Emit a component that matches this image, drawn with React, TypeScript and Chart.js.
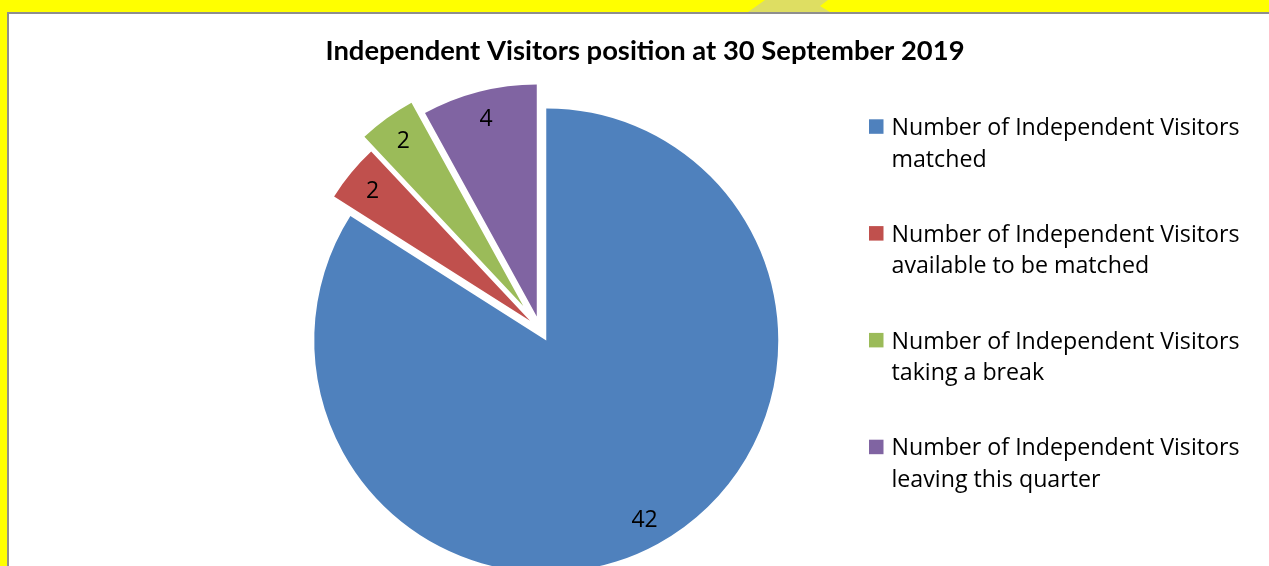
import React, { useEffect, useRef } from "react";
import { Chart, registerables } from "chart.js";

Chart.register(...registerables);

// ---- data ----
const chartTitle = "Independent Visitors position at 30 September 2019";
const categories: string[][] = [
  ["Number of Independent Visitors", "matched"],
  ["Number of Independent Visitors", "available to be matched"],
  ["Number of Independent Visitors", "taking a break"],
  ["Number of Independent Visitors", "leaving this quarter"],
];
const values: number[] = [42, 2, 2, 4];

// ---- style ----
const colors = ["#4F81BD", "#C0504D", "#9BBB59", "#8064A2"];
const explode = [13, 13, 28.5, 13];
const FONT = "'Open Sans', Lato, 'DejaVu Sans', sans-serif";
const TITLE_FONT = "Lato, 'Open Sans', 'DejaVu Sans', sans-serif";

const explodePlugin = {
  id: "explodeSlices",
  beforeDatasetsDraw(chart: any) {
    const ctx = chart.ctx;
    const meta = chart.getDatasetMeta(0);
    meta.data.forEach((arc: any, i: number) => {
      const mid = (arc.startAngle + arc.endAngle) / 2;
      const d = explode[i] || 0;
      ctx.save();
      ctx.translate(Math.cos(mid) * d, Math.sin(mid) * d);
      arc.draw(ctx);
      ctx.restore();
    });
    return false;
  },
};

const decorPlugin = {
  id: "decor",
  afterDraw(chart: any) {
    const ctx = chart.ctx;
    const meta = chart.getDatasetMeta(0);
    const ds = chart.data.datasets[0];
    ctx.save();
    // data labels
    ctx.font = `23px ${FONT}`;
    ctx.fillStyle = "#000";
    ctx.textAlign = "center";
    ctx.textBaseline = "middle";
    meta.data.forEach((arc: any, i: number) => {
      const mid = (arc.startAngle + arc.endAngle) / 2;
      const r = (explode[i] || 0) + arc.outerRadius * 0.88;
      ctx.fillText(String(ds.data[i]), arc.x + Math.cos(mid) * r, arc.y + Math.sin(mid) * r + 1);
    });
    // title
    ctx.font = `bold 27.4px ${TITLE_FONT}`;
    ctx.textAlign = "center";
    ctx.textBaseline = "alphabetic";
    ctx.fillText(chartTitle, 645, 60);
    // legend
    const labels = chart.data.labels as string[][];
    labels.forEach((lines, i) => {
      const top = 119.3 + 106.8 * i;
      ctx.fillStyle = ds.backgroundColor[i];
      ctx.fillRect(869, top, 14.5, 14.5);
      ctx.fillStyle = "#000";
      ctx.font = `23.2px ${FONT}`;
      ctx.textAlign = "left";
      lines.forEach((ln, j) => {
        ctx.fillText(ln, 891.5, 135 + 106.8 * i + 31.5 * j);
      });
    });
    ctx.restore();
  },
};

export default function App() {
  const ref = useRef<HTMLCanvasElement | null>(null);
  useEffect(() => {
    if (!ref.current) return;
    const chart = new Chart(ref.current, {
      type: "pie",
      data: {
        labels: categories,
        datasets: [
          {
            data: values,
            backgroundColor: colors,
            borderWidth: 0,
          },
        ],
      },
      options: {
        animation: false,
        responsive: false,
        events: [],
        radius: 232,
        layout: { padding: { left: 0, right: 189, top: 0, bottom: 42 } },
        plugins: {
          legend: { display: false },
          title: { display: false },
          tooltip: { enabled: false },
        },
      } as any,
      plugins: [explodePlugin, decorPlugin],
    });
    return () => chart.destroy();
  }, []);

  return (
    <div
      style={{
        position: "fixed",
        left: 0,
        top: 0,
        width: 1269,
        height: 566,
        overflow: "hidden",
        background: "#FFFF00",
      }}
    >
      <div
        style={{
          position: "absolute",
          left: 748,
          top: 0,
          width: 84,
          height: 12,
          background: "#DEDE62",
          clipPath: "polygon(0px 12px, 17px 0px, 80px 0px, 72px 6px, 82px 12px)",
        }}
      />
      <div
        style={{
          position: "absolute",
          left: 7,
          top: 12,
          width: 1300,
          height: 700,
          background: "#fff",
          borderLeft: "2px solid #8E8E8E",
          borderTop: "2px solid #8E8E8E",
        }}
      />
      <canvas
        ref={ref}
        width={1269}
        height={700}
        style={{ position: "absolute", left: 0, top: 0, width: 1269, height: 700 }}
      />
    </div>
  );
}
